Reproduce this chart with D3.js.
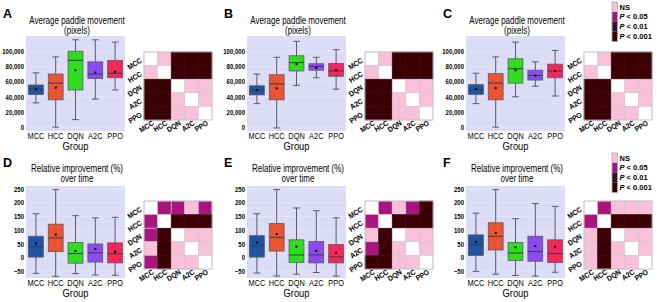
<!DOCTYPE html>
<html>
<head>
<meta charset="utf-8">
<script src="https://cdn.jsdelivr.net/npm/d3@7"></script>
<style>
    body { margin: 0; background: #fff; }
    svg { display: block; }
    text { font-family: "Liberation Sans", Arial, sans-serif; fill: #000; }
</style>
</head>
<body>
<div id="wrapper"></div>
<script>
// Groups compared in every panel
const groups = ["MCC", "HCC", "DQN", "A2C", "PPO"]

// Box stats per group: [lower whisker, Q1, median, Q3, upper whisker, mean]
const paddleA = [
    [32000, 43000, 50000, 55500, 71500, 50000],
    [0, 36000, 58000, 70000, 92500, 52000],
    [10000, 49000, 88000, 100000, 115000, 75000],
    [37000, 64000, 70000, 86000, 115000, 72000],
    [49000, 65000, 71000, 88000, 112000, 73000],
]
const paddleB = [
    [31000, 42500, 49000, 54500, 70000, 49000],
    [-1000, 36000, 57000, 69000, 92000, 51000],
    [55000, 74000, 85000, 94000, 113000, 83000],
    [65000, 75000, 80000, 83500, 92000, 78000],
    [50000, 67000, 74000, 84000, 102000, 75000],
]
const paddleC = [
    [31000, 43000, 49500, 56000, 71000, 50000],
    [0, 36000, 58000, 70500, 92500, 51500],
    [40000, 58000, 77000, 90000, 112000, 75000],
    [54000, 62000, 68000, 75000, 86000, 68000],
    [41000, 65000, 74000, 83000, 101000, 74000],
]
const improveD = [
    [-57, 2, 40, 78, 160, 52],
    [-68, 22, 72, 122, 248, 84],
    [-58, -20, 15, 55, 153, 25],
    [-63, -16, 18, 50, 145, 32],
    [-64, -19, 14, 54, 147, 22],
]
const improveE = [
    [-56, 2, 43, 80, 160, 55],
    [-67, 24, 74, 124, 248, 86],
    [-60, -17, 10, 65, 181, 40],
    [-54, -19, 10, 59, 171, 25],
    [-67, -19, 3, 48, 145, 18],
]
const improveF = [
    [-50, 8, 47, 83, 162, 58],
    [-60, 28, 78, 127, 248, 90],
    [-65, -10, 17, 55, 142, 38],
    [-67, -13, 22, 78, 197, 42],
    [-53, -18, 15, 65, 187, 40],
]

// Significance level of each pair: 0 same group, 1 NS, 2 P<0.05, 3 P<0.01, 4 P<0.001
const sigA = [
    [0, 1, 4, 4, 4],
    [1, 0, 4, 4, 4],
    [4, 4, 0, 1, 1],
    [4, 4, 1, 0, 1],
    [4, 4, 1, 1, 0],
]
const sigB = sigA
const sigC = sigA
const sigD = [
    [0, 2, 2, 1, 2],
    [2, 0, 4, 4, 4],
    [2, 4, 0, 1, 1],
    [1, 4, 1, 0, 1],
    [2, 4, 1, 1, 0],
]
const sigE = [
    [0, 2, 1, 2, 4],
    [2, 0, 4, 4, 4],
    [1, 4, 0, 1, 1],
    [2, 4, 1, 0, 1],
    [4, 4, 1, 1, 0],
]
const sigF = [
    [0, 2, 1, 1, 1],
    [2, 0, 4, 4, 4],
    [1, 4, 0, 1, 1],
    [1, 4, 1, 0, 1],
    [1, 4, 1, 1, 0],
]

const paddleTicks = [0, 20000, 40000, 60000, 80000, 100000]
const improveTicks = [-50, 0, 50, 100, 150, 200, 250]
const legendLabels = ["NS", "< 0.05", "< 0.01", "< 0.001"]

const groupColors = ["#1d54a4", "#ec5330", "#2fdc1e", "#8a4bef", "#f5265a"]
const sigColors = ["#ffffff", "#f9c0da", "#a8157e", "#3d0b2f", "#3a0006"]

const dimensions = {
    width: 660,
    height: 302,
    plotLeft: 26,
    plotRight: 125,
    heatLeft: 144,
    heatSize: 68,
}

// the source figure uses a condensed face, so text is squeezed sideways
const squeeze = k => `scale(${k},1)`

const wrapper = d3.select("#wrapper")
    .append("svg")
    .attr("width", dimensions.width)
    .attr("height", dimensions.height)

const panels = [
    { letter: "A", x: 0, y: 0, title: ["Average paddle movement", "(pixels)"], stats: paddleA, sig: sigA, top: true },
    { letter: "B", x: 221, y: 0, title: ["Average paddle movement", "(pixels)"], stats: paddleB, sig: sigB, top: true },
    { letter: "C", x: 440, y: 0, title: ["Average paddle movement", "(pixels)"], stats: paddleC, sig: sigC, top: true },
    { letter: "D", x: 0, y: 150, title: ["Relative improvement (%)", "over time"], stats: improveD, sig: sigD, top: false },
    { letter: "E", x: 221, y: 150, title: ["Relative improvement (%)", "over time"], stats: improveE, sig: sigE, top: false },
    { letter: "F", x: 440, y: 150, title: ["Relative improvement (%)", "over time"], stats: improveF, sig: sigF, top: false },
]

panels.forEach(drawPanel)
drawLegend(0)
drawLegend(151)

function drawPanel(p) {
    const g = wrapper.append("g")
        .attr("transform", `translate(${p.x},${p.y})`)

    const plotTop = 36
    const plotBottom = p.top ? 131 : 128

    const yScale = d3.scaleLinear()
        .domain(p.top ? [-5000, 120000] : [-74, 261])
        .range([plotBottom, plotTop])

    const xScale = d3.scaleBand()
        .domain(groups)
        .range([dimensions.plotLeft, dimensions.plotRight])

    // panel letter and title
    g.append("text")
        .attr("x", 3)
        .attr("y", p.top ? 18 : 17)
        .attr("font-size", 12.5)
        .attr("font-weight", "bold")
        .text(p.letter)

    const title = g.append("g")
        .attr("transform", "translate(77,0)")
    title.selectAll("text")
        .data(p.title)
        .join("text")
        .attr("transform", (d, i) => `translate(0,${(p.top ? 23.5 : 22) + i * 10}) ${squeeze(0.8)}`)
        .attr("text-anchor", "middle")
        .attr("font-size", 10)
        .text(d => d)

    // plot background
    g.append("rect")
        .attr("x", dimensions.plotLeft)
        .attr("y", plotTop)
        .attr("width", dimensions.plotRight - dimensions.plotLeft)
        .attr("height", plotBottom - plotTop)
        .attr("fill", "#dddcf6")

    const ticks = p.top ? paddleTicks : improveTicks

    g.append("g")
        .selectAll("line")
        .data(ticks)
        .join("line")
        .attr("x1", dimensions.plotLeft)
        .attr("x2", dimensions.plotRight)
        .attr("y1", d => yScale(d))
        .attr("y2", d => yScale(d))
        .attr("stroke", "#fff")
        .attr("stroke-opacity", 0.5)
        .attr("stroke-width", 0.6)

    // y axis
    const yAxis = g.append("g")
        .attr("transform", `translate(${dimensions.plotLeft - 2},0)`)
        .call(d3.axisLeft(yScale)
            .tickValues(ticks)
            .tickSize(0)
            .tickPadding(0)
            .tickFormat(p.top ? d3.format(",") : d3.format("d")))
    yAxis.select(".domain").remove()
    yAxis.selectAll("text")
        .attr("font-size", 7)
        .attr("font-weight", "bold")
        .attr("fill", "#111")
        .attr("transform", squeeze(0.86))

    // x axis
    const xAxis = g.append("g")
        .attr("transform", `translate(0,${plotBottom})`)
        .call(d3.axisBottom(xScale).tickSize(0).tickPadding(1.5))
    xAxis.select(".domain").remove()
    xAxis.selectAll("text")
        .attr("font-size", 9.5)
        .attr("fill", "#000")
        .attr("transform", squeeze(0.78))

    g.append("g")
        .attr("transform", `translate(75.5,${plotBottom + 19})`)
        .append("text")
        .attr("transform", squeeze(0.85))
        .attr("text-anchor", "middle")
        .attr("font-size", 11)
        .text("Group")

    // boxes
    const boxWidth = xScale.bandwidth() * 0.75
    const capWidth = boxWidth * 0.45
    const boxes = g.append("g")
        .selectAll("g")
        .data(p.stats)
        .join("g")
        .attr("transform", (d, i) => `translate(${xScale(groups[i]) + xScale.bandwidth() / 2},0)`)

    boxes.append("line")
        .attr("y1", d => yScale(d[0]))
        .attr("y2", d => yScale(d[4]))
        .attr("stroke", "#5a5a66")
        .attr("stroke-width", 1)
    boxes.selectAll(".cap")
        .data(d => [d[0], d[4]])
        .join("line")
        .attr("class", "cap")
        .attr("x1", -capWidth / 2)
        .attr("x2", capWidth / 2)
        .attr("y1", d => yScale(d))
        .attr("y2", d => yScale(d))
        .attr("stroke", "#5a5a66")
        .attr("stroke-width", 1)
    boxes.append("rect")
        .attr("x", -boxWidth / 2)
        .attr("width", boxWidth)
        .attr("y", d => yScale(d[3]))
        .attr("height", d => yScale(d[1]) - yScale(d[3]))
        .attr("fill", (d, i) => groupColors[i])
        .attr("stroke", "#5a5a66")
        .attr("stroke-width", 0.8)
    boxes.append("line")
        .attr("x1", -boxWidth / 2)
        .attr("x2", boxWidth / 2)
        .attr("y1", d => yScale(d[2]))
        .attr("y2", d => yScale(d[2]))
        .attr("stroke", "#3a3a44")
        .attr("stroke-width", 1)
    boxes.append("rect")
        .attr("x", -1)
        .attr("y", d => yScale(d[5]) - 1)
        .attr("width", 2)
        .attr("height", 2)
        .attr("fill", "#000")

    // significance heatmap
    const heatScale = d3.scaleBand()
        .domain(groups)
        .range([0, dimensions.heatSize])
    const heat = g.append("g")
        .attr("transform", `translate(${dimensions.heatLeft},${p.top ? 52 : 51})`)

    const cells = []
    p.sig.forEach((row, r) => row.forEach((v, c) => cells.push({ r, c, v })))

    heat.selectAll("rect")
        .data(cells)
        .join("rect")
        .attr("x", d => heatScale(groups[d.c]))
        .attr("y", d => heatScale(groups[d.r]))
        .attr("width", heatScale.bandwidth())
        .attr("height", heatScale.bandwidth())
        .attr("fill", d => sigColors[d.v])
        .attr("stroke", d => d.v >= 3 ? sigColors[d.v] : "#cfc4cc")
        .attr("stroke-width", 0.6)

    heat.append("rect")
        .attr("width", dimensions.heatSize)
        .attr("height", dimensions.heatSize)
        .attr("fill", "none")
        .attr("stroke", "#c8c0c8")
        .attr("stroke-width", 0.8)

    heat.selectAll(".rowlab")
        .data(groups)
        .join("text")
        .attr("class", "rowlab")
        .attr("transform", d => `translate(-1.5,${heatScale(d) + heatScale.bandwidth() / 2 + 3}) rotate(-32) ${squeeze(0.9)}`)
        .attr("text-anchor", "end")
        .attr("font-size", 7.5)
        .attr("font-weight", "bold")
        .text(d => d)

    heat.selectAll(".collab")
        .data(groups)
        .join("text")
        .attr("class", "collab")
        .attr("transform", d => `translate(${heatScale(d) + heatScale.bandwidth() / 2 + 3.5},${dimensions.heatSize + 4.5}) rotate(-32) ${squeeze(0.9)}`)
        .attr("text-anchor", "end")
        .attr("font-size", 7.5)
        .attr("font-weight", "bold")
        .text(d => d)
}

function drawLegend(offsetY) {
    const legendScale = d3.scaleBand()
        .domain(legendLabels)
        .range([offsetY + 2, offsetY + 41.5])
    const legend = wrapper.append("g")

    legend.selectAll("rect")
        .data(legendLabels)
        .join("rect")
        .attr("x", 612)
        .attr("y", d => legendScale(d))
        .attr("width", 5.5)
        .attr("height", legendScale.bandwidth())
        .attr("fill", (d, i) => sigColors[i + 1])
    legend.append("rect")
        .attr("x", 612)
        .attr("y", offsetY + 2)
        .attr("width", 5.5)
        .attr("height", 39.5)
        .attr("fill", "none")
        .attr("stroke", "#aaa")
        .attr("stroke-width", 0.8)

    const labels = legend.selectAll("text")
        .data(legendLabels)
        .join("text")
        .attr("x", 619.5)
        .attr("y", d => legendScale(d) + legendScale.bandwidth() / 2)
        .attr("dy", "0.35em")
        .attr("font-size", 7.5)
        .attr("font-weight", "bold")
    labels.filter((d, i) => i > 0)
        .append("tspan")
        .attr("font-style", "italic")
        .text("P")
    labels.append("tspan")
        .text((d, i) => i > 0 ? " " + d : d)
}
</script>
</body>
</html>
